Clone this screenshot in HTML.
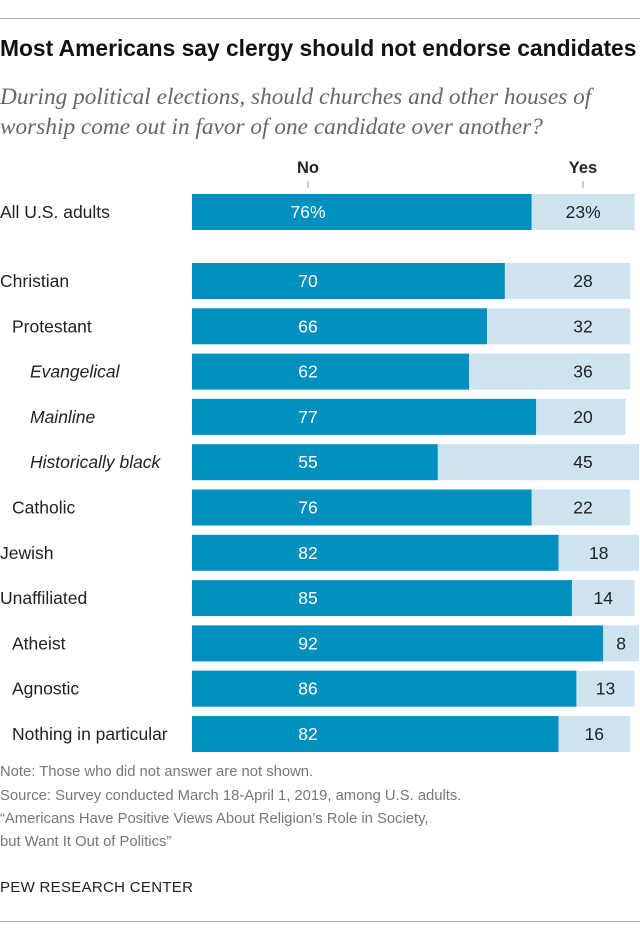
<!DOCTYPE html>
<html><head><meta charset="utf-8"><style>
body{margin:0;background:#fff;width:640px;height:938px;position:relative;font-family:"Liberation Sans",sans-serif;overflow:hidden}
.abs{position:absolute}
.rule{position:absolute;left:0;width:640px;height:1px;background:#aaa}
.title{left:0;top:35px;font-size:22.8px;font-weight:bold;color:#111;white-space:nowrap}
.sub{left:0;top:82px;font-family:"Liberation Serif",serif;font-style:italic;font-size:23.3px;line-height:30px;color:#666;width:640px;white-space:nowrap}
.note{left:0;font-size:14.8px;color:#777;white-space:nowrap}
</style></head><body>
<div class="rule" style="top:18px"></div>
<div class="abs title">Most Americans say clergy should not endorse candidates</div>
<div class="abs sub">During political elections, should churches and other houses of<br>worship come out in favor of one candidate over another?</div>
<svg class="abs" style="left:0;top:0" width="640" height="760" id="chart"></svg>
<div class="abs note" style="top:764px">Note: Those who did not answer are not shown.</div>
<div class="abs note" style="top:788px">Source: Survey conducted March 18-April 1, 2019, among U.S. adults.</div>
<div class="abs note" style="top:811px">“Americans Have Positive Views About Religion’s Role in Society,</div>
<div class="abs note" style="top:834px">but Want It Out of Politics”</div>
<div class="abs" style="left:0;top:879px;font-size:15px;color:#222;letter-spacing:0.3px">PEW RESEARCH CENTER</div>
<div class="rule" style="top:921px"></div>
<script>
const categories=["All U.S. adults","Christian","Protestant","Evangelical","Mainline","Historically black","Catholic","Jewish","Unaffiliated","Atheist","Agnostic","Nothing in particular"];
const noValues=[76,70,66,62,77,55,76,82,85,92,86,82];
const yesValues=[23,28,32,36,20,45,22,18,14,8,13,16];
const indents=[0,0,12,30,30,30,12,0,0,12,12,12];
const italics=[false,false,false,true,true,true,false,false,false,false,false,false];
const ns="http://www.w3.org/2000/svg";
const svg=document.getElementById('chart');
const x0=192, scale=4.47;
const xs=v=>v*scale;
const yc=i=>i===0?212:281+(i-1)*45.3;
const bh=36;
function mk(t,a){const e=document.createElementNS(ns,t);for(const k in a)e.setAttribute(k,a[k]);svg.appendChild(e);return e;}
let h=mk('text',{x:308,y:173,'text-anchor':'middle','font-size':16.5,'font-weight':'bold',fill:'#222'});h.textContent='No';


h=mk('text',{x:583,y:173,'text-anchor':'middle','font-size':16.5,'font-weight':'bold',fill:'#222'});h.textContent='Yes';


mk('line',{x1:308,x2:308,y1:181,y2:188,stroke:'#999'});
mk('line',{x1:583,x2:583,y1:181,y2:188,stroke:'#999'});
categories.forEach((c,i)=>{
 const y=yc(i);
 const lab=mk('text',{x:indents[i],y:y+6,'font-size':17.5,fill:'#222','font-style':italics[i]?'italic':'normal'});
 lab.textContent=c;
 
 
 const wn=xs(noValues[i]), wy=xs(yesValues[i]);
 const b1=mk('rect',{x:x0,y:y-bh/2,width:wn,height:bh,fill:'#0090c0'});
 
 
 const b2=mk('rect',{x:x0+wn,y:y-bh/2,width:wy,height:bh,fill:'#cde3f0'});
 
 
 const t1=mk('text',{x:308,y:y+6,'text-anchor':'middle','font-size':17.5,fill:'#fff'});
 t1.textContent=noValues[i]+(i===0?'%':'');
 
 
 const t2=mk('text',{x:Math.max(583,x0+wn+wy/2),y:y+6,'text-anchor':'middle','font-size':17.5,fill:'#222'});
 t2.textContent=yesValues[i]+(i===0?'%':'');
 
 
});
</script>
</body></html>
